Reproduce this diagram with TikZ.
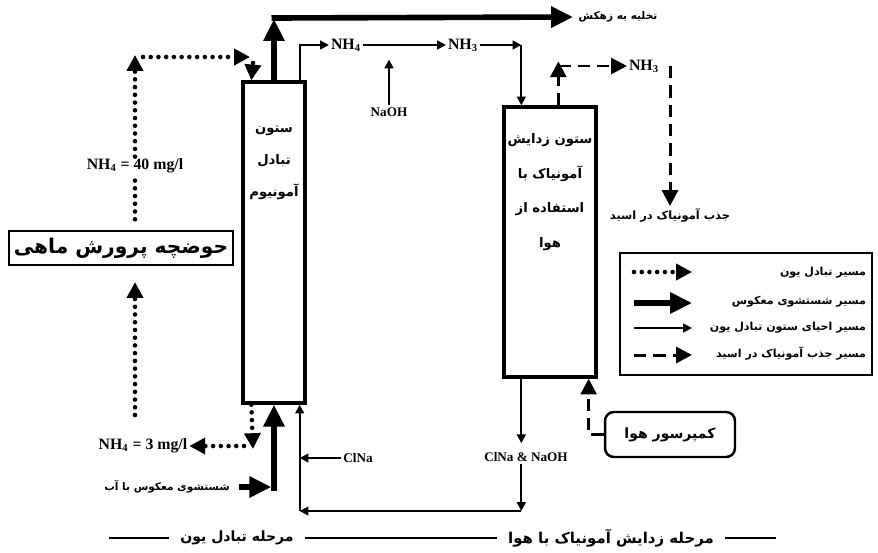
\documentclass[tikz,border=0pt]{standalone}
\usepackage{fontspec}
\setmainfont{Liberation Serif}
\newfontfamily\farsi[Script=Arabic]{DejaVu Sans}
\TeXXeTstate=1
\usetikzlibrary{arrows.meta,positioning}
\newcommand{\fa}[1]{\beginR #1\endR}

\begin{document}
\begin{tikzpicture}[
        x=0.02cm, y=-0.02cm,
        column/.style={draw, line width=1.9pt, inner sep=0pt},
        plainbox/.style={draw, line width=1.4pt, inner sep=0pt},
        fatxt/.style={font=\farsi\bfseries\fontsize{7}{9}\selectfont, inner sep=1pt},
        entxt/.style={font=\bfseries\fontsize{9}{11}\selectfont, inner sep=1pt},
        ionline/.style={line width=2.6pt, dash pattern=on 0pt off 4.4pt, line cap=round},
        ionarr/.style={ionline, -{Triangle[length=9pt,width=9pt]}},
        washarr/.style={line width=3.2pt, -{Triangle[length=12.5pt,width=11.5pt]}},
        regarr/.style={line width=1.1pt, -{Triangle[length=5pt,width=5pt]}},
        acidarr/.style={line width=1.7pt, dash pattern=on 7pt off 4pt, -{Triangle[length=9pt,width=9pt]}},
        stageline/.style={line width=0.8pt, shorten <=5pt, shorten >=5pt}
    ]
    \useasboundingbox (0,0) rectangle (878,552);

    % columns and boxes
    \node[column, minimum width=1.24cm, minimum height=6.42cm] (ionx) at (274,242.5) {};
    \node[column, minimum width=1.84cm, minimum height=5.4cm] (strip) at (550,242) {};
    \node[plainbox, minimum width=4.48cm, minimum height=0.68cm, font=\farsi\bfseries\fontsize{11.5}{13}\selectfont] (pond) at (121,248) {\fa{حوضچه پرورش ماهی}};
    \node[plainbox, rounded corners=5pt, minimum width=2.6cm, minimum height=0.9cm, font=\farsi\bfseries\fontsize{8}{10}\selectfont] (comp) at (670,434.5) {\fa{کمپرسور هوا}};
    \node[draw, line width=1.2pt, minimum width=5.04cm, minimum height=2.44cm] (legend) at (746,314) {};

    \node[fatxt, align=center, font=\farsi\bfseries\fontsize{7.5}{18.4}\selectfont] (ionxtxt) at (274,163) {\fa{ستون}\\\fa{تبادل}\\\fa{آمونیوم}};
    \node[fatxt, align=center, font=\farsi\bfseries\fontsize{7.5}{19.8}\selectfont] (striptxt) at (550,192) {\fa{ستون زدایش}\\\fa{آمونیاک با}\\\fa{استفاده از}\\\fa{هوا}};

    % labels
    \node[entxt] (nh40) at (135,166) {NH\textsubscript{4} = 40 mg/l};
    \node[entxt] (nh3mg) at (143,446) {NH\textsubscript{4} = 3 mg/l};
    \node[entxt] (nh4a) at (346,45) {NH\textsubscript{4}};
    \node[entxt] (nh3a) at (463,45) {NH\textsubscript{3}};
    \node[entxt] (nh3b) at (644,66) {NH\textsubscript{3}};
    \node[entxt, font=\bfseries\fontsize{7.5}{9}\selectfont] (naoh) at (389,112) {NaOH};
    \node[entxt, font=\bfseries\fontsize{7.5}{9}\selectfont] (clna) at (358,458) {ClNa};
    \node[entxt, font=\bfseries\fontsize{7.5}{9}\selectfont] (mix) at (526,457) {ClNa \& NaOH};

    \node[fatxt, font=\farsi\bfseries\fontsize{6}{8}\selectfont] (drain) at (618,17) {\fa{تخلیه به زهکش}};
    \node[fatxt, font=\farsi\bfseries\fontsize{6.5}{8}\selectfont] (absorb) at (670,215) {\fa{جذب آمونیاک در اسید}};
    \node[fatxt, font=\farsi\bfseries\fontsize{6}{8}\selectfont] (wash) at (167,487) {\fa{شستشوی معکوس با آب}};
    \node[fatxt, font=\farsi\bfseries\fontsize{8}{10}\selectfont] (stage1) at (237,538) {\fa{مرحله تبادل یون}};
    \node[fatxt, font=\farsi\bfseries\fontsize{8.5}{10}\selectfont] (stage2) at (611,538) {\fa{مرحله زدایش آمونیاک با هوا}};

    % route points
    \coordinate (ionin) at ([xshift=0.2cm]ionx.north west);
    \coordinate (ionout) at ([xshift=0.2cm]ionx.south west);
    \coordinate (regout) at ([xshift=-0.14cm]ionx.north east);
    \coordinate (regin) at ([xshift=-0.14cm]ionx.south east);
    \coordinate (stripin) at ([xshift=0.38cm]strip.north west);
    \coordinate (stripout) at ([xshift=0.38cm]strip.south west);
    \coordinate (gasout) at ([xshift=1.12cm]strip.north west);
    \coordinate (airin) at ([xshift=-0.18cm]strip.south east);
    \coordinate (loop) at (0,511);

    % ion exchange path
    \draw[ionline, shorten <=6pt] (pond.north -| nh40) -- (nh40.south);
    \draw[ionarr] (nh40.north) -- (135,55);
    \draw[ionarr] (143,57) -- (250,57);
    \draw[ionarr] (253,63) -- (ionin);
    \draw[ionarr, shorten >=9pt] (135,415) -- (pond.south -| nh40);
    \draw[ionarr] (ionout) -- (253,449);
    \draw[ionarr] (244,446) -- (nh3mg.east);

    % backwash path
    \draw[washarr, shorten <=4pt, shorten >=1.5pt] (wash.east) -- (ionx.south |- wash.east);
    \draw[washarr] (274,491) -- (ionx.south);
    \draw[washarr] (ionx.north) -- (274,19);
    \draw[washarr, shorten >=2pt] (271.5,18) -- (drain.west);

    % regeneration path
    \draw[regarr] (regout) |- (nh4a.west);
    \draw[regarr] (nh4a.east) -- (nh3a.west);
    \draw[regarr] (nh3a.east) -- (stripin |- nh3a);
    \draw[regarr] (stripin |- nh3a) -- (stripin);
    \draw[regarr] (naoh.north) -- ++(0,-46);
    \draw[regarr, shorten >=4pt] (stripout) -- (stripout |- mix.north);
    \draw[regarr] (stripout |- mix.south) -- (stripout |- loop);
    \draw[regarr] (stripout |- loop) -- (regin |- loop);
    \draw[regarr] (regin |- loop) -- (regin);
    \draw[regarr] (clna.west) -- (regin |- clna);

    % ammonia to acid path
    \draw[acidarr] (gasout) -- ++(0,-44);
    \draw[acidarr] (gasout |- nh3b) -- (nh3b.west);
    \draw[acidarr] (absorb.north |- nh3b) -- (absorb.north);
    \draw[acidarr] (comp.west) -| (airin);

    % legend
    \draw[ionarr] (634,272) -- (692,272);
    \draw[washarr] (634,303) -- (692,303);
    \draw[regarr] (634,328) -- (692,328);
    \draw[acidarr] (634,355) -- (692,355);
    \node[fatxt, anchor=east, font=\farsi\bfseries\fontsize{6.3}{8}\selectfont] (leg1) at (868,273) {\fa{مسیر تبادل یون}};
    \node[fatxt, anchor=east, font=\farsi\bfseries\fontsize{6.3}{8}\selectfont] (leg2) at (868,302) {\fa{مسیر شستشوی معکوس}};
    \node[fatxt, anchor=east, font=\farsi\bfseries\fontsize{6.3}{8}\selectfont] (leg3) at (868,328) {\fa{مسیر احیای ستون تبادل یون}};
    \node[fatxt, anchor=east, font=\farsi\bfseries\fontsize{6.3}{8}\selectfont] (leg4) at (868,354) {\fa{مسیر جذب آمونیاک در اسید}};

    % stages
    \draw[stageline] (100,538) -- (stage1.west);
    \draw[stageline] (stage1.east) -- (stage2.west);
    \draw[stageline] (stage2.east) -- (785,538);
\end{tikzpicture}
\end{document}
